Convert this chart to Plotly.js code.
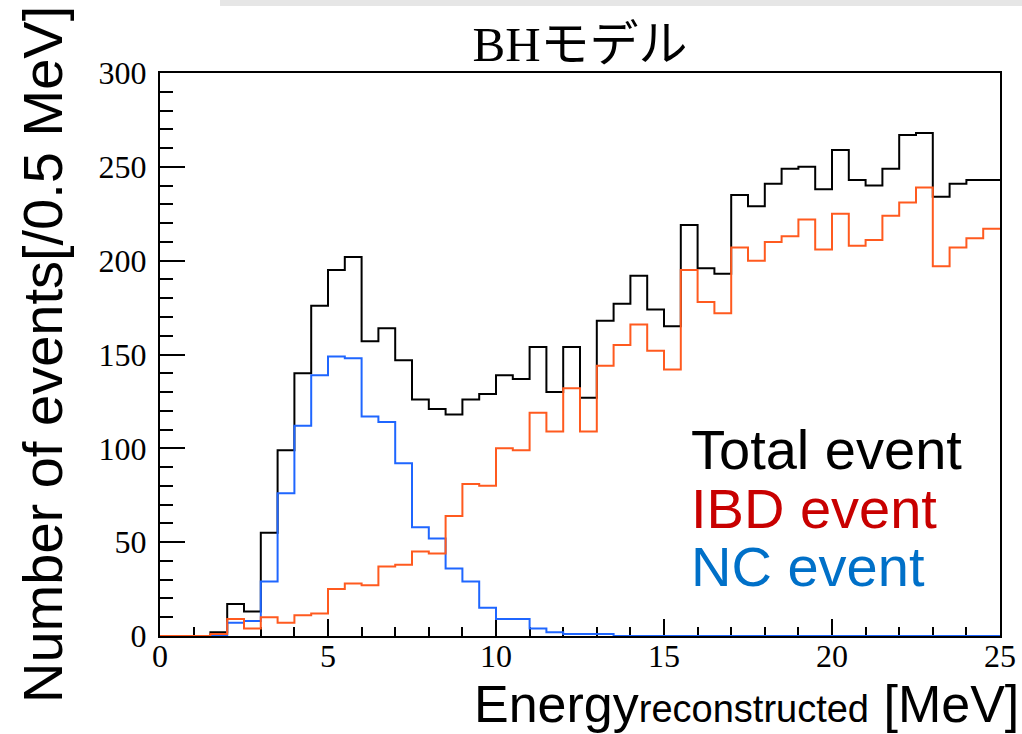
<!DOCTYPE html>
<html>
<head>
<meta charset="utf-8">
<script src="https://cdn.plot.ly/plotly-3.0.1.min.js"></script>
<style>
  html, body { margin: 0; padding: 0; background: #ffffff; }
  #chart { width: 1022px; height: 734px; }
</style>
</head>
<body>
<div id="chart"></div>
<script>
// Reconstructed-energy spectrum, 0.5 MeV bins from 0 to 25 MeV
const binWidth = 0.5;
const xMin = 0;

const totalEvents = [
  0, 0, 0, 2, 17, 13, 55, 99, 140, 176,
  195, 202, 157, 164, 147, 126, 121, 118, 126, 129,
  139, 137, 154, 130, 154, 127, 168, 177, 192, 174,
  165, 219, 196, 193, 235, 229, 241, 249, 250, 238,
  259, 243, 240, 249, 267, 268, 234, 241, 243, 243
];

const ibdEvents = [
  0, 0, 0, 1, 9, 4, 10, 7, 11, 12,
  25, 28, 27, 37, 38, 45, 44, 64, 81, 80,
  100, 99, 119, 109, 132, 109, 144, 155, 166, 152,
  142, 195, 178, 172, 207, 200, 210, 213, 222, 206,
  225, 208, 211, 224, 231, 239, 197, 207, 212, 217
];

const ncEvents = [
  0, 0, 0, 0, 7, 8, 29, 76, 112, 139,
  149, 148, 117, 114, 92, 58, 52, 36, 29, 15,
  9, 9, 4, 2, 1, 1, 1, 0, 0, 0,
  0, 0, 0, 0, 0, 0, 0, 0, 0, 0,
  0, 0, 0, 0, 0, 0, 0, 0, 0, 0
];

const xTickVals = [0, 5, 10, 15, 20, 25];
const yTickVals = [0, 50, 100, 150, 200, 250, 300];

const legendLabels = ['Total event', 'IBD event', 'NC event'];
const legendColors = ['#000000', '#c80000', '#0070c8'];

// Step outline: every bin drawn from its low edge, closed at the last high edge
function stepTrace(counts, color) {
  const x = counts.map((_, i) => xMin + i * binWidth);
  const y = counts.slice();
  x.push(xMin + counts.length * binWidth);
  y.push(counts[counts.length - 1]);
  return {
    type: 'scatter', mode: 'lines', x: x, y: y,
    line: { shape: 'hv', color: color, width: 2 },
    hoverinfo: 'skip', showlegend: false, cliponaxis: true
  };
}

const traces = [
  stepTrace(totalEvents, '#000000'),
  stepTrace(ncEvents, '#1f66ff'),
  stepTrace(ibdEvents, '#ff5a1f')
];

// plot area in pixels: x 160..1000, y 73..636
const L = 160, R = 1000, T = 73, B = 636;
const px = v => (v - L) / (R - L);
const py = v => (B - v) / (B - T);

const legendAnnotations = legendLabels.map((txt, i) => ({
  xref: 'paper', yref: 'paper',
  x: px(689), y: py(450 + i * 58),
  xanchor: 'left', yanchor: 'middle',
  text: txt, showarrow: false,
  font: { family: 'Liberation Sans, Arial, sans-serif', size: 56, color: legendColors[i] }
}));

const layout = {
  width: 1022, height: 734,
  margin: { l: L, r: 1022 - R, t: T, b: 734 - B, pad: 0 },
  paper_bgcolor: '#ffffff', plot_bgcolor: '#ffffff',
  showlegend: false,
  title: {
    text: 'BHモデル',
    x: 0.5, xref: 'paper', xanchor: 'center',
    y: 1 - 44 / 734, yref: 'container', yanchor: 'middle',
    font: { family: 'Liberation Serif, Noto Sans CJK JP, serif', size: 49, color: '#000000' }
  },
  xaxis: {
    range: [0, 25], showgrid: false, zeroline: false,
    tickvals: xTickVals, ticktext: xTickVals.map(String),
    ticks: 'inside', ticklen: 17, tickwidth: 2, tickcolor: '#000000',
    minor: { dtick: 1, ticks: 'inside', ticklen: 9, tickwidth: 2, tickcolor: '#000000', showgrid: false },
    showline: true, linecolor: '#000000', linewidth: 2, mirror: true,
    layer: 'below traces',
    tickfont: { family: 'Liberation Serif, serif', size: 32, color: '#000000' },
    ticklabelstandoff: -9
  },
  yaxis: {
    range: [0, 300], showgrid: false, zeroline: false,
    tickvals: yTickVals, ticktext: yTickVals.map(String),
    ticks: 'inside', ticklen: 25, tickwidth: 2, tickcolor: '#000000',
    minor: { dtick: 10, ticks: 'inside', ticklen: 13, tickwidth: 2, tickcolor: '#000000', showgrid: false },
    showline: true, linecolor: '#000000', linewidth: 2, mirror: true,
    layer: 'below traces',
    tickfont: { family: 'Liberation Serif, serif', size: 32, color: '#000000' },
    ticklabelstandoff: 5
  },
  shapes: [
    {
      type: 'rect', xref: 'paper', yref: 'paper',
      x0: px(220), x1: px(1022), y0: py(6), y1: py(0),
      fillcolor: '#e6e6e6', line: { width: 0 }, layer: 'below'
    }
  ],
  annotations: [
    {
      xref: 'paper', yref: 'paper', x: px(42), y: py(355),
      xanchor: 'center', yanchor: 'middle', textangle: -90,
      text: 'Number of events[/0.5 MeV]', showarrow: false,
      font: { family: 'Liberation Sans, Arial, sans-serif', size: 56, color: '#000000' }
    },
    {
      xref: 'paper', yref: 'paper', x: px(1021), y: py(704),
      xanchor: 'right', yanchor: 'middle',
      text: 'Energy<span style="font-size:38px">reconstructed</span> [MeV]', showarrow: false,
      font: { family: 'Liberation Sans, Arial, sans-serif', size: 52, color: '#000000' }
    }
  ].concat(legendAnnotations)
};

Plotly.newPlot('chart', traces, layout, { staticPlot: true, displayModeBar: false });
</script>
</body>
</html>
